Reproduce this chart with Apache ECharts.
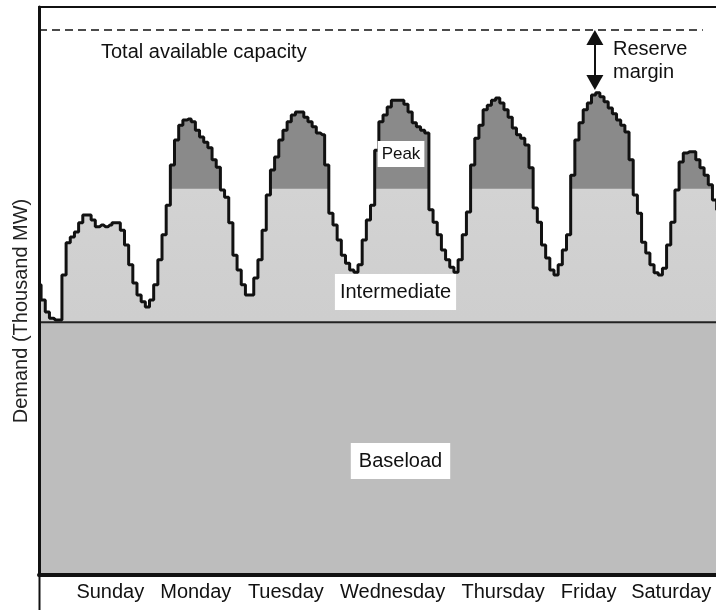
<!DOCTYPE html>
<html>
<head>
<meta charset="utf-8">
<script src="https://cdn.jsdelivr.net/npm/echarts@6/dist/echarts.min.js"></script>
<style>
html,body{margin:0;padding:0;background:#fff;}
#chart{width:716px;height:610px;}
</style>
</head>
<body>
<div id="chart"></div>
<script>
// Hourly system demand over the week (thousand MW, arbitrary scale), hour 0 = Sunday 00:00
const demand = [
  51.1,48.4,46.3,45.2,44.9,44.9,52.8,58.5,59.5,60.4,62.0,63.4,63.4,62.5,61.3,61.6,61.3,61.6,62.0,62.0,60.7,58.1,54.6,51.4,
  49.3,48.1,47.2,48.4,51.1,55.5,59.9,65.1,72.2,76.6,79.2,80.1,80.3,79.8,78.3,77.1,76.2,75.2,73.1,71.8,67.8,66.5,62.0,56.3,
  53.7,51.1,49.3,49.3,52.3,55.5,60.7,66.9,71.3,73.6,76.6,78.3,79.8,81.0,81.5,81.5,80.6,79.8,78.9,77.8,77.5,72.2,63.7,61.6,
  59.0,56.3,54.9,53.7,53.3,54.6,59.0,62.5,65.1,74.8,79.8,81.0,82.4,83.6,83.6,83.6,82.9,81.5,79.6,78.9,78.3,77.8,64.3,62.1,
  59.9,57.2,55.5,54.2,53.3,55.5,59.9,63.9,72.2,76.9,79.2,81.9,82.7,83.6,84.0,83.1,81.9,80.6,78.7,77.5,76.9,75.7,71.7,64.6,
  62.1,58.1,55.8,53.7,52.8,54.6,57.2,59.9,70.4,76.6,79.6,81.9,83.1,84.5,84.9,84.2,83.3,82.2,81.2,80.1,79.2,78.0,73.1,66.9,
  63.7,58.6,56.7,54.6,53.2,52.8,54.0,58.1,62.1,67.8,72.7,74.3,74.5,74.5,73.1,71.7,70.4,68.7,66.0,64.3
];
const baseload = 44.5;          // baseload capacity level
const peakThreshold = 68.0;     // above this: peaking units
const capacity = 96.0;          // total available capacity
const days = ["Sunday","Monday","Tuesday","Wednesday","Thursday","Friday","Saturday"];
const dayLabelHours = [17.1, 37.6, 59.2, 84.8, 111.3, 131.8, 151.6];
const reserveArrowHour = 133.3;
const xMax = 162.35;

const FONT = '"Liberation Sans", Arial, Helvetica, sans-serif';

const demandPts = demand.map((v, i) => [i, v]);
const intermPts = demand.map((v, i) => [i, Math.min(v, peakThreshold)]);
const peakDemand = Math.max(...demand);

const chart = echarts.init(document.getElementById('chart'), null, {renderer: 'canvas'});

const option = {
  animation: false,
  backgroundColor: '#fff',
  grid: {left: 39, right: 0, top: 7, bottom: 35, containLabel: false, outerBoundsMode: 'none'},
  xAxis: [{
    type: 'value', min: 0, max: xMax, z: 10,
    axisLine: {show: true, onZero: false, lineStyle: {color: '#111', width: 4}},
    axisTick: {show: false},
    splitLine: {show: false},
    axisLabel: {
      show: true,
      customValues: dayLabelHours,
      margin: 7,
      color: '#111', fontSize: 20, fontFamily: FONT,
      formatter: function (val) {
        let best = 0, d = Infinity;
        dayLabelHours.forEach((h, i) => { if (Math.abs(h - val) < d) { d = Math.abs(h - val); best = i; } });
        return days[best];
      }
    }
  }, {
    type: 'value', min: 0, max: xMax, position: 'top', z: 10,
    axisLine: {show: true, onZero: false, lineStyle: {color: '#111', width: 2}},
    axisTick: {show: false}, axisLabel: {show: false}, splitLine: {show: false}
  }],
  yAxis: {
    type: 'value', min: 0, max: 100, z: 10,
    axisLine: {show: true, onZero: false, lineStyle: {color: '#111', width: 3}},
    axisTick: {show: false}, axisLabel: {show: false}, splitLine: {show: false},
    name: 'Demand (Thousand MW)',
    nameLocation: 'middle', nameGap: 8,
    nameTextStyle: {color: '#222', fontSize: 20, fontFamily: FONT, padding: [0, 40, 0, 0]}
  },
  series: [
    {
      name: 'Peak', type: 'line', step: 'middle', data: demandPts, z: 2,
      symbol: 'none', lineStyle: {width: 0},
      areaStyle: {color: '#8a8a8a', opacity: 1, origin: 'start'}
    },
    {
      name: 'Intermediate', type: 'line', step: 'middle', data: intermPts, z: 3,
      symbol: 'none', lineStyle: {width: 0},
      areaStyle: {
        opacity: 1, origin: 'start',
        color: new echarts.graphic.LinearGradient(0, 0, 0, 1, [
          {offset: 0, color: '#d3d3d3'}, {offset: 1, color: '#c4c4c4'}
        ])
      }
    },
    {
      name: 'Baseload', type: 'line', data: [[0, baseload], [xMax, baseload]], z: 4,
      symbol: 'none', lineStyle: {color: '#222', width: 2},
      areaStyle: {color: '#bdbdbd', opacity: 1, origin: 'start'}
    },
    {
      name: 'Demand', type: 'line', step: 'middle', data: demandPts, z: 5,
      symbol: 'none', lineStyle: {color: '#111', width: 3},
      markLine: {
        silent: true, animation: false,
        label: {show: false},
        data: [
          [{coord: [0, capacity], symbol: 'none', lineStyle: {type: [8, 5], width: 1.5, color: '#111'}},
           {coord: [159.2, capacity], symbol: 'none'}],
          [{coord: [reserveArrowHour, capacity - 1.35], symbol: 'triangle', symbolSize: [17, 15], lineStyle: {type: 'solid', width: 2, color: '#111'}},
           {coord: [reserveArrowHour, peakDemand + 1.8], symbol: 'triangle', symbolSize: [17, 15]}]
        ]
      }
    }
  ],
  graphic: [
    {type: 'line', z: 10, shape: {x1: 39.5, y1: 575, x2: 39.5, y2: 610}, style: {stroke: '#111', lineWidth: 2}},
    {type: 'text', x: 101, y: 52, z: 10,
     style: {text: 'Total available capacity', fill: '#111', font: '20px ' + FONT, verticalAlign: 'middle', align: 'left'}},
    {type: 'text', x: 613, y: 38, z: 10,
     style: {text: 'Reserve\nmargin', fill: '#111', font: '20px ' + FONT, lineHeight: 23, verticalAlign: 'top', align: 'left'}},
    {type: 'text', x: 401, y: 154, z: 10,
     style: {text: 'Peak', fill: '#111', font: '17px ' + FONT, align: 'center', verticalAlign: 'middle',
             backgroundColor: '#fff', padding: [5, 4, 4, 4]}},
    {type: 'text', x: 395.5, y: 292, z: 10,
     style: {text: 'Intermediate', fill: '#111', font: '20px ' + FONT, align: 'center', verticalAlign: 'middle',
             backgroundColor: '#fff', padding: [8, 5, 8, 5]}},
    {type: 'text', x: 400.5, y: 461, z: 10,
     style: {text: 'Baseload', fill: '#111', font: '20px ' + FONT, align: 'center', verticalAlign: 'middle',
             backgroundColor: '#fff', padding: [8, 8, 8, 8]}}
  ]
};
chart.setOption(option);
</script>
</body>
</html>
